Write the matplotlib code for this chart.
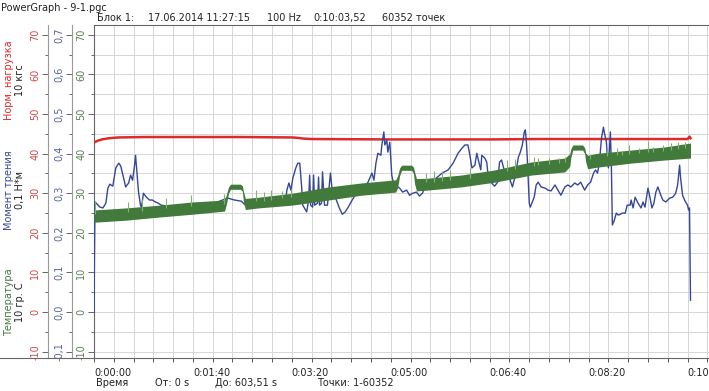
import matplotlib
matplotlib.use("Agg")
import matplotlib.pyplot as plt
import numpy as np
from matplotlib.lines import Line2D
from matplotlib.ticker import MultipleLocator, FuncFormatter

plt.rcParams['font.family'] = ['DejaVu Sans']
plt.rcParams['font.size'] = 7
plt.rcParams['axes.unicode_minus'] = False

# --- data ---
# normal load, 10 kgf units
red_t = [0, 3, 8, 15, 25, 50, 100, 150, 200, 206, 212, 220, 300, 400, 450, 500, 550, 600, 602, 603]
red_v = [42.8, 43.2, 43.6, 43.9, 44.1, 44.2, 44.2, 44.2, 44.1, 44.0, 43.8, 43.7, 43.6, 43.6, 43.7, 43.7,
         43.7, 43.7, 44.3, 43.9]

# friction moment, N*m
blue_t = [0, 1, 3, 6, 9, 12, 14, 16, 19, 22,
          25, 27, 30, 32, 35, 37, 39, 41, 42, 43,
          45, 47, 48, 50, 53, 56, 59, 62, 65, 68,
          80, 100, 120, 135, 142, 149, 153, 157, 165, 175,
          185, 193, 195, 197, 199, 201, 204, 206, 208, 210,
          211, 215, 217, 218, 219, 221, 222, 223, 226, 227,
          228, 230, 231, 233, 236, 239, 241, 245, 248, 251,
          254, 257, 261, 264, 271, 277, 281, 283, 285, 287,
          290, 291, 293, 294, 296, 297, 299, 301, 302, 305,
          309, 312, 316, 319, 322, 326, 329, 332, 334, 341,
          352, 358, 363, 368, 372, 375, 378, 380, 382, 385,
          387, 389, 391, 392, 395, 397, 398, 402, 405, 408,
          410, 412, 416, 420, 423, 426, 429, 431, 433, 435,
          436, 437, 438, 440, 441, 445, 447, 449, 452, 456,
          459, 462, 466, 469, 472, 476, 479, 482, 486, 489,
          492, 496, 499, 502, 505, 507, 509, 511, 513, 515,
          516, 518, 519, 520, 522, 523, 524, 526, 528, 530,
          532, 534, 537, 539, 542, 543, 545, 547, 550, 553,
          555, 557, 560, 562, 564, 566, 568, 570, 573, 575,
          578, 582, 585, 588, 590, 592, 593, 595, 597, 598,
          600, 601, 602, 603]
blue_nm = [0.000, 0.278, 0.273, 0.265, 0.263, 0.275, 0.313, 0.323, 0.318, 0.364,
           0.376, 0.369, 0.338, 0.316, 0.326, 0.346, 0.333, 0.371, 0.396, 0.364,
           0.303, 0.270, 0.265, 0.300, 0.290, 0.283, 0.283, 0.278, 0.275, 0.270,
           0.265, 0.268, 0.273, 0.288, 0.283, 0.280, 0.270, 0.268, 0.275, 0.280,
           0.285, 0.270, 0.308, 0.326, 0.308, 0.338, 0.364, 0.376, 0.376, 0.313,
           0.270, 0.253, 0.283, 0.346, 0.270, 0.265, 0.346, 0.270, 0.275, 0.341,
           0.270, 0.275, 0.354, 0.270, 0.270, 0.351, 0.303, 0.283, 0.263, 0.247,
           0.253, 0.265, 0.283, 0.295, 0.308, 0.328, 0.351, 0.333, 0.376, 0.401,
           0.396, 0.422, 0.455, 0.422, 0.434, 0.404, 0.429, 0.346, 0.333, 0.320,
           0.313, 0.303, 0.308, 0.295, 0.300, 0.303, 0.293, 0.300, 0.313, 0.328,
           0.351, 0.359, 0.376, 0.401, 0.414, 0.422, 0.422, 0.396, 0.364, 0.371,
           0.401, 0.379, 0.359, 0.396, 0.389, 0.379, 0.354, 0.326, 0.318, 0.328,
           0.379, 0.384, 0.346, 0.338, 0.316, 0.346, 0.391, 0.404, 0.422, 0.455,
           0.460, 0.434, 0.389, 0.275, 0.265, 0.290, 0.321, 0.328, 0.316, 0.313,
           0.308, 0.306, 0.321, 0.308, 0.295, 0.316, 0.321, 0.316, 0.326, 0.321,
           0.328, 0.308, 0.321, 0.328, 0.351, 0.359, 0.351, 0.379, 0.439, 0.467,
           0.452, 0.429, 0.389, 0.364, 0.455, 0.371, 0.220, 0.232, 0.250, 0.245,
           0.247, 0.250, 0.250, 0.270, 0.270, 0.283, 0.263, 0.290, 0.275, 0.263,
           0.278, 0.265, 0.313, 0.290, 0.263, 0.275, 0.303, 0.316, 0.295, 0.283,
           0.278, 0.288, 0.290, 0.300, 0.321, 0.371, 0.338, 0.295, 0.283, 0.278,
           0.270, 0.258, 0.263, 0.030]

# temperature, 10 deg C units: noisy band (lower / upper envelope)
band_t = [0, 1, 32, 66, 99, 132, 134, 136, 138, 148, 150, 151, 153, 166, 200, 237, 270, 305, 307, 309,
          311, 321, 323, 324, 326, 337, 371, 405, 442, 476, 481, 482, 484, 494, 496, 497, 499, 509,
          542, 577, 603]
band_lo = [22.7, 22.7, 23.2, 24.0, 24.7, 25.5, 27.5, 30.0, 31.0, 31.0, 30.5, 28.0, 25.9, 26.3, 27.0,
           28.3, 29.5, 30.3, 31.5, 34.5, 35.8, 35.8, 35.0, 32.5, 30.6, 30.8, 31.6, 32.8, 34.6, 35.4,
           36.8, 39.0, 40.9, 40.9, 40.0, 38.0, 36.2, 36.6, 37.6, 38.4, 38.9]
band_hi = [25.8, 25.8, 26.3, 27.0, 27.8, 28.3, 29.8, 31.6, 32.3, 32.3, 31.9, 30.6, 28.7, 29.0, 30.0,
           31.6, 32.6, 33.4, 34.5, 36.4, 37.1, 37.1, 36.6, 35.5, 33.7, 33.8, 34.6, 35.9, 37.9, 38.9,
           40.0, 41.2, 42.2, 42.2, 41.5, 40.2, 39.6, 40.1, 40.9, 41.7, 42.7]
spike_t = [1, 34, 49, 73, 98, 131, 164, 172, 179, 190, 199, 336, 344, 352, 360, 380, 418, 426, 445, 449,
           460, 470, 476, 501, 519, 529, 534, 541, 551, 560, 565, 575, 583, 590, 597]
spike_top = [28.0, 27.8, 28.5, 28.8, 29.5, 29.8, 30.8, 30.3, 30.8, 30.5, 31.2, 35.0, 35.6, 35.6, 36.0,
             36.4, 38.4, 38.6, 39.1, 38.8, 38.8, 38.9, 39.1, 39.6, 40.9, 41.4, 40.6, 42.2, 41.4, 43.2,
             41.7, 42.2, 42.7, 43.0, 43.0]

scale_ticks = [-10, 0, 10, 20, 30, 40, 50, 60, 70]
moment_ticks = [-0.1, 0.0, 0.1, 0.2, 0.3, 0.4, 0.5, 0.6, 0.7]

W, H = 709, 391
RED, BLUE, GREEN = '#dd2b2b', '#34479a', '#427a3c'
TXT = '#222222'

fig = plt.figure(figsize=(W / 100, H / 100), dpi=100)
ax = fig.add_axes([94 / W, 1 - 358 / H, 1 - 94 / W, (358 - 25) / H])
ylim = (-11.6, 72.5)
ax.set_xlim(0, 621.7)
ax.set_ylim(*ylim)

ax.set_axisbelow(True)
ax.xaxis.set_major_locator(MultipleLocator(100))
ax.xaxis.set_minor_locator(MultipleLocator(20))
ax.xaxis.set_major_formatter(FuncFormatter(lambda s, p: f"0:{int(s) // 60:02d}:{int(s) % 60:02d}"))
ax.grid(which='both', color='#d6d6d6', lw=0.7)
ax.tick_params(axis='x', which='both', length=3, width=0.7, color='#555555', pad=4, labelcolor=TXT)
for lab in ax.get_xticklabels():
    lab.set_ha('left')

ax.spines['right'].set_visible(False)
for s in ['left', 'bottom', 'top']:
    ax.spines[s].set_color('#666666')
    ax.spines[s].set_linewidth(0.8)

# series
ax.plot(red_t, red_v, color=RED, lw=1.8, zorder=3)
ax.plot(blue_t, np.array(blue_nm) * 100, color=BLUE, lw=1.0, zorder=4)
ax.fill_between(band_t, band_lo, band_hi, color=GREEN, lw=0, zorder=5)
ax.vlines(spike_t, np.interp(spike_t, band_t, band_hi) - 1.0, spike_top, color='#7fb46a', lw=0.8, zorder=6)


def left_scale(a, ticks, labels, color, minor):
    a.set_yticks(ticks, labels, rotation=90, va='center', ha='right')
    a.yaxis.set_minor_locator(MultipleLocator(minor))
    a.tick_params(axis='y', which='major', length=4, width=0.7, color='#666666', pad=1.5, labelcolor=color)
    a.tick_params(axis='y', which='minor', length=2.5, width=0.7, color='#666666')


left_scale(ax, scale_ticks, [str(v) for v in scale_ticks], '#5a7f55', 5)

# extra scales to the left
ax_red = ax.twinx()
ax_blue = ax.twinx()
for a, off, lim in [(ax_red, 46, ylim), (ax_blue, 22, (ylim[0] / 100, ylim[1] / 100))]:
    a.set_ylim(*lim)
    for s in a.spines.values():
        s.set_visible(False)
    a.spines['left'].set_visible(True)
    a.spines['left'].set_position(('outward', off * 0.72))
    a.spines['left'].set_color('#999999')
    a.spines['left'].set_linewidth(0.8)
    a.yaxis.set_ticks_position('left')
    a.patch.set_visible(False)

left_scale(ax_red, scale_ticks, [str(v) for v in scale_ticks], '#d04a4a', 5)
left_scale(ax_blue, moment_ticks, [f"{v:.1f}".replace('.', ',') for v in moment_ticks], '#5465a0', 0.05)

fig.add_artist(Line2D([0, 94 / W], [1 - 358 / H] * 2, color='#666666', lw=0.8, transform=fig.transFigure))

# axis titles on the far left
for yc, name, unit, col in [(80, 'Норм. нагрузка', '10 кгс', RED),
                            (190, 'Момент трения', '0,1 Н*м', BLUE),
                            (302, 'Температура', '10 гр. С', GREEN)]:
    fig.text(9 / W, 1 - yc / H, name, rotation=90, color=col, ha='center', va='center')
    fig.text(20 / W, 1 - yc / H, unit, rotation=90, color=TXT, ha='center', va='center')

# header and footer
fig.text(1 / W, 1 - 8 / H, 'PowerGraph - 9-1.pgc', color=TXT, va='center')
for x, s in [(97, 'Блок 1:'), (148, '17.06.2014 11:27:15'), (267, '100 Hz'),
             (313, '0:10:03,52'), (382, '60352 точек')]:
    fig.text(x / W, 1 - 18 / H, s, color=TXT, va='center')
for x, s in [(96, 'Время'), (155, 'От: 0 s'), (215, 'До: 603,51 s'), (317, 'Точки: 1-60352')]:
    fig.text(x / W, 1 - 383 / H, s, color=TXT, va='center')

fig.savefig('out.png', dpi=100, facecolor='white')
